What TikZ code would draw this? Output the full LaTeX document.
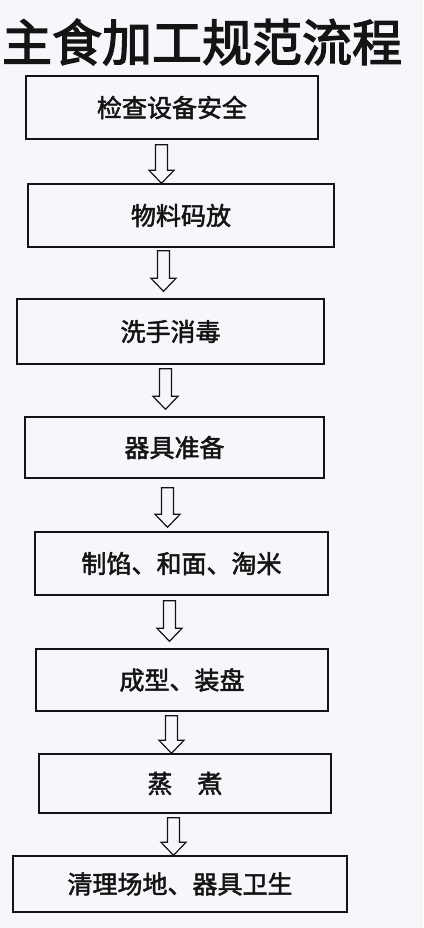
\documentclass[tikz,border=0pt]{standalone}
\usepackage{fontspec}
\newfontfamily\cjk{Noto Sans CJK SC}
\usetikzlibrary{calc}
\definecolor{paper}{RGB}{246,247,250}
\definecolor{ink}{RGB}{20,20,20}
\newcommand\heavytext[2]{\special{pdf:literal direct 2 Tr #1 w}#2\special{pdf:literal direct 0 Tr}}
\tikzset{
  stepbox/.style={draw=ink, line width=1.4pt, inner sep=0pt, font=\cjk\fontsize{25}{25}\selectfont, text=ink},
  harrow/.style={draw=ink, line width=1.2pt, fill=paper, line join=miter},
  titletext/.style={font=\cjk\fontsize{50}{50}\selectfont, text=ink, inner sep=0pt}
}
% #1 from node, #2 to node, #3 centre x, #4 gap below #1, #5 gap above #2
\newcommand\hollowarrow[5]{%
  \draw[harrow] let \p1=(#1.south), \p2=(#2.north) in
    ({#3pt-6pt},{\y1-#4pt}) -- ({#3pt+6pt},{\y1-#4pt}) --
    ({#3pt+6pt},{\y2+#5pt+13pt}) -- ({#3pt+12.5pt},{\y2+#5pt+13pt}) --
    ({#3pt},{\y2+#5pt}) -- ({#3pt-12.5pt},{\y2+#5pt+13pt}) --
    ({#3pt-6pt},{\y2+#5pt+13pt}) -- cycle;}
\begin{document}
\begin{tikzpicture}[x=1pt,y=-1pt]
  \fill[paper] (0,0) rectangle (423,928);
  \useasboundingbox (0,0) rectangle (423,928);
  \node[titletext] (title) at (202,42) {\heavytext{1.3}{主食加工规范流程}};
  \node[stepbox, minimum width=292pt, minimum height=63pt] (b1) at (172,107.5) {\heavytext{0.5}{检查设备安全}};
  \node[stepbox, minimum width=306pt, minimum height=63pt] (b2) at (181,215.5) {\heavytext{0.5}{物料码放}};
  \node[stepbox, minimum width=307pt, minimum height=65pt] (b3) at (170.5,331.5) {\heavytext{0.5}{洗手消毒}};
  \node[stepbox, minimum width=299pt, minimum height=61pt] (b4) at (174.5,447.5) {\heavytext{0.5}{器具准备}};
  \node[stepbox, minimum width=293pt, minimum height=63pt] (b5) at (181.5,563.5) {\heavytext{0.5}{制馅、和面、淘米}};
  \node[stepbox, minimum width=292pt, minimum height=62pt] (b6) at (182,680) {\heavytext{0.5}{成型、装盘}};
  \node[stepbox, minimum width=292pt, minimum height=59pt] (b7) at (185,783.5) {\heavytext{0.5}{蒸　煮}};
  \node[stepbox, minimum width=334pt, minimum height=56pt] (b8) at (180,884) {\heavytext{0.5}{清理场地、器具卫生}};
  \hollowarrow{b1}{b2}{161.5}{5}{0}
  \hollowarrow{b2}{b3}{163.5}{3}{7}
  \hollowarrow{b3}{b4}{165.5}{4}{7}
  \hollowarrow{b4}{b5}{167.5}{9}{4}
  \hollowarrow{b5}{b6}{169.5}{5}{7}
  \hollowarrow{b6}{b7}{171.5}{4}{0}
  \hollowarrow{b7}{b8}{173.5}{4}{0}
\end{tikzpicture}
\end{document}
